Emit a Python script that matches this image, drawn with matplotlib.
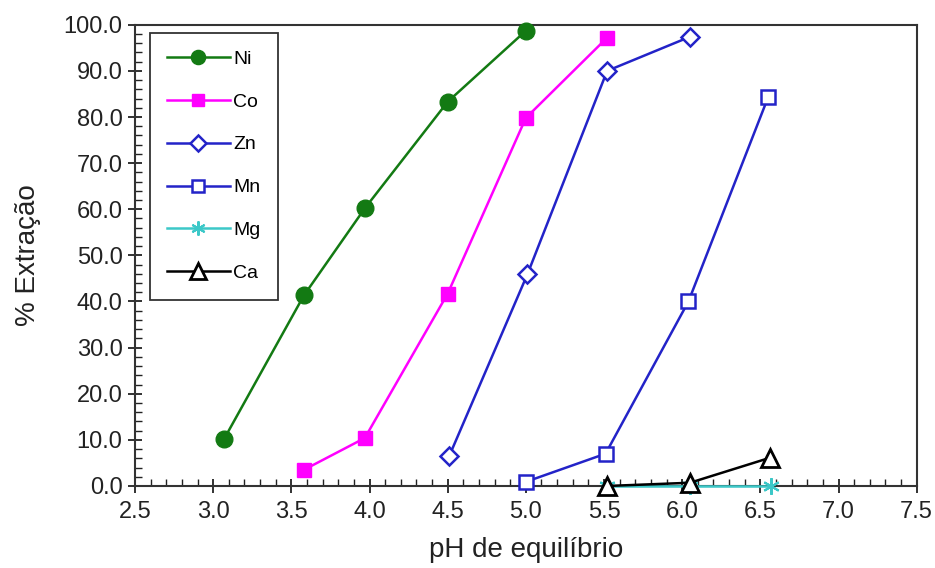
import matplotlib
matplotlib.use("Agg")
import matplotlib.pyplot as plt
from matplotlib.ticker import MultipleLocator, FormatStrFormatter

plt.rcParams['font.family'] = ['Liberation Sans', 'DejaVu Sans']

ni_x = [3.07, 3.58, 3.97, 4.50, 5.00]
ni_y = [10.2, 41.3, 60.2, 83.3, 98.7]
co_x = [3.58, 3.97, 4.50, 5.00, 5.52]
co_y = [3.5, 10.4, 41.7, 79.8, 97.2]
zn_x = [4.51, 5.01, 5.52, 6.05]
zn_y = [6.5, 45.9, 90.0, 97.4]
mn_x = [5.00, 5.51, 6.04, 6.55]
mn_y = [0.9, 7.0, 40.0, 84.3]
mg_x = [5.52, 6.05, 6.57]
mg_y = [0.0, 0.0, 0.0]
ca_x = [5.52, 6.05, 6.56]
ca_y = [0.0, 0.7, 6.1]

fig = plt.figure(figsize=(9.35, 5.68), dpi=100)
ax = fig.add_axes([0.1444, 0.1444, 0.836, 0.812])

lw = 1.8
ax.plot(mg_x, mg_y, color='#3cc8c8', lw=lw, marker=(6, 2, 0), ms=12, mew=1.5, label='Mg', clip_on=False, zorder=3)
ax.plot(ca_x, ca_y, color='black', lw=lw, marker='^', ms=13, mfc='white', mew=2, label='Ca', clip_on=False, zorder=4)
ax.plot(ni_x, ni_y, color='#137a13', lw=lw, marker='o', ms=12, label='Ni', clip_on=False, zorder=5)
ax.plot(co_x, co_y, color='#ff00ff', lw=lw, marker='s', ms=10, label='Co', clip_on=False, zorder=5)
ax.plot(zn_x, zn_y, color='#2323c8', lw=lw, marker='D', ms=9, mfc='white', mew=1.8, label='Zn', clip_on=False, zorder=5)
ax.plot(mn_x, mn_y, color='#2323c8', lw=lw, marker='s', ms=9.5, mfc='white', mew=1.8, label='Mn', clip_on=False, zorder=5)

ax.set_xlim(2.5, 7.5)
ax.set_ylim(0, 100)
ax.xaxis.set_major_locator(MultipleLocator(0.5))
ax.xaxis.set_minor_locator(MultipleLocator(0.1))
ax.yaxis.set_major_locator(MultipleLocator(10))
ax.yaxis.set_minor_locator(MultipleLocator(2))
ax.xaxis.set_major_formatter(FormatStrFormatter('%.1f'))
ax.yaxis.set_major_formatter(FormatStrFormatter('%.1f'))
ax.tick_params(which='major', direction='inout', length=10, width=1.3, labelsize=17, colors='#222222')
ax.tick_params(axis='x', which='major', pad=6)
ax.tick_params(axis='y', which='major', pad=4)
ax.tick_params(which='minor', direction='in', length=5, width=1.0, colors='#222222')
ax.tick_params(top=False, right=False, which='both')
for s in ax.spines.values():
    s.set_linewidth(1.5)
    s.set_color('#333333')

ax.set_xlabel('pH de equilíbrio', fontsize=20, color='#222222', labelpad=10)
ax.set_ylabel('% Extração', fontsize=20, color='#222222', labelpad=16)

handles, labels = ax.get_legend_handles_labels()
order = ['Ni', 'Co', 'Zn', 'Mn', 'Mg', 'Ca']
hd = dict(zip(labels, handles))
leg = ax.legend([hd[k] for k in order], order, loc='upper left', bbox_to_anchor=(0.019, 0.983),
                fontsize=14, frameon=True, fancybox=False, edgecolor='black',
                handlelength=3.2, labelspacing=1.3, borderpad=0.9, handletextpad=0.2,
                markerscale=0.85, borderaxespad=0)
leg.get_frame().set_linewidth(1.3)

fig.savefig('out.png', dpi=100)
